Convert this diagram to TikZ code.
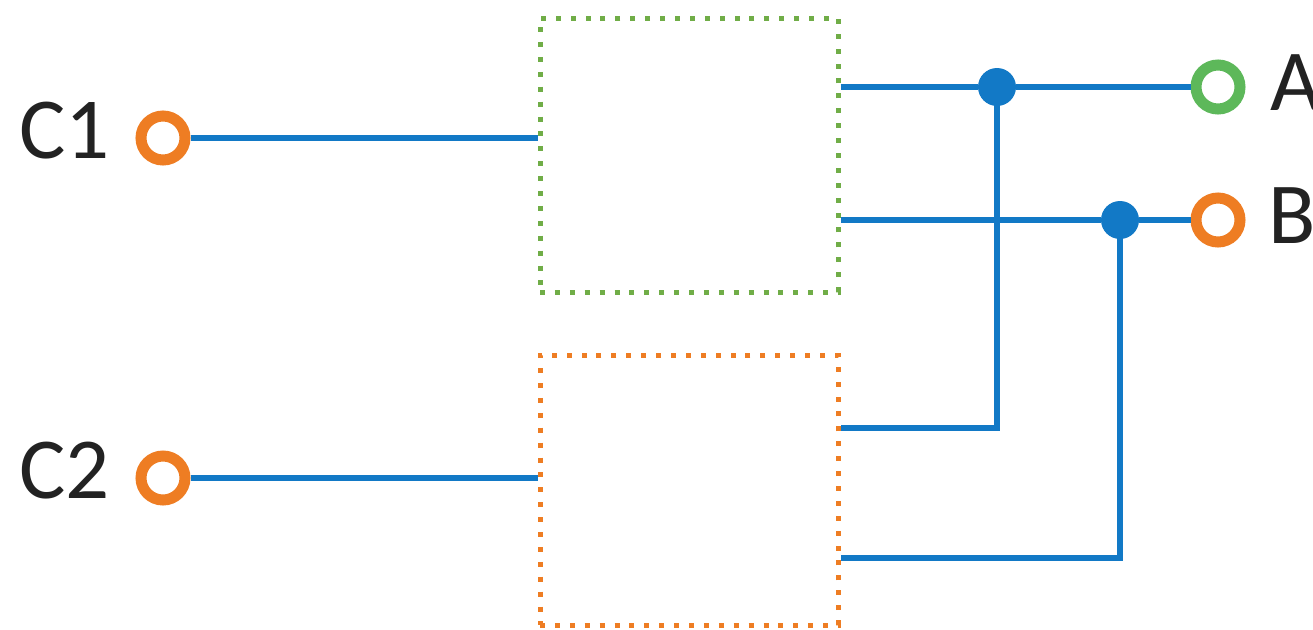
\documentclass[tikz,border=0pt]{standalone}
\usepackage{fontspec}
\setmainfont{Carlito}
\usetikzlibrary{positioning,calc}
\definecolor{Wire}{HTML}{1279C6}
\definecolor{Green}{HTML}{5DB85A}
\definecolor{BoxGreen}{HTML}{70AD47}
\definecolor{Orange}{HTML}{EE7D23}
\definecolor{Ink}{HTML}{222222}

\tikzset{
  terminal/.style={circle,draw=#1,line width=11pt,fill=white,inner sep=0pt,minimum size=44pt},
  junction/.style={circle,fill=Wire,inner sep=0pt,minimum size=38pt},
  dotbox/.style 2 args={draw=#1,line width=5pt,dash pattern=on 5pt off 9.9pt,minimum width=298pt,minimum height=#2,inner sep=0pt},
  wire/.style={Wire,line width=6.5pt},
  lab/.style={text=Ink,font=\fontsize{87pt}{90pt}\selectfont,inner sep=0pt}
}

\begin{document}
\begin{tikzpicture}[x=1pt,y=-1pt]
  \useasboundingbox (0,0) rectangle (1313,629);
  % boxes
  \node[dotbox={BoxGreen}{274pt}] (gbox) at (689,155) {};
  \node[dotbox={Orange}{270pt}] (obox) at (689,490) {};
  % terminals
  \node[terminal=Orange] (c1) at (163,138) {};
  \node[terminal=Orange] (c2) at (163,478) {};
  \node[terminal=Green] (ta) at (1218,87) {};
  \node[terminal=Orange] (tb) at (1218,220) {};
  \node[lab,anchor=base east] at (110,158) {C1};
  \node[lab,anchor=base east] at (110,498) {C2};
  \node[lab,anchor=base west] at (1270,110) {A};
  \node[lab,anchor=base west] at (1268,243) {B};
  % junctions
  \node[junction] (ja) at (997,87) {};
  \node[junction] (jb) at (1120,220) {};
  % ports
  \coordinate (g1) at (gbox.east |- ja);
  \coordinate (g2) at (gbox.east |- jb);
  \coordinate (o1) at ($(obox.east)+(0,-62)$);
  \coordinate (o2) at ($(obox.east)+(0,68)$);
  % wires
  \draw[wire] (c1) -- (c1 -| gbox.west);
  \draw[wire] (c2) -- (c2 -| obox.west);
  \draw[wire] (g1) -- (ja) -- (ta);
  \draw[wire] (g2) -- (jb) -- (tb);
  \draw[wire] (ja.center) -- (ja.center |- o1) -- (o1);
  \draw[wire] (jb.center) -- (jb.center |- o2) -- (o2);
\end{tikzpicture}
\end{document}
